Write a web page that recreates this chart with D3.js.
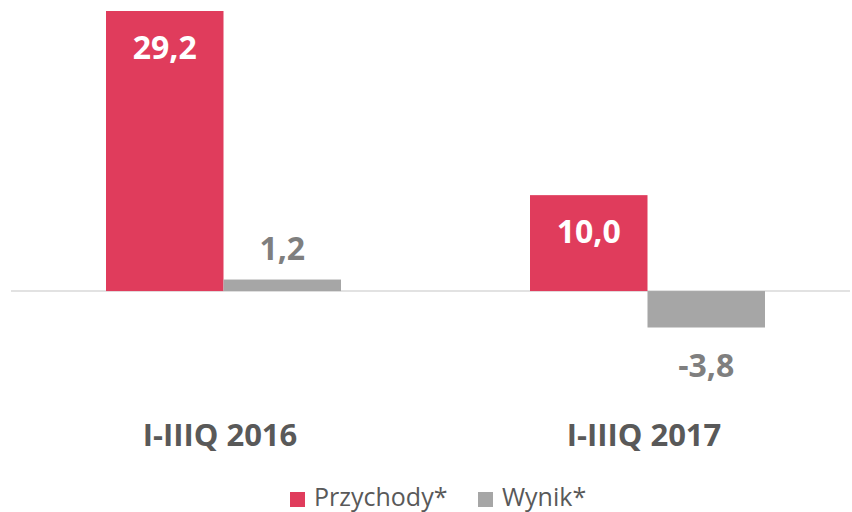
<!DOCTYPE html>
<html><head><meta charset="utf-8">
<script src="https://cdn.jsdelivr.net/npm/d3@7"></script>
<style>body{margin:0;background:#fff}svg{display:block}</style>
</head><body>
<script>
const categories = ["I-IIIQ 2016", "I-IIIQ 2017"];
const seriesNames = ["Przychody*", "Wynik*"];
const przychody = [29.2, 10.0];
const wynik = [1.2, -3.8];
const colors = ["#E03C5C", "#A6A6A6"];
const labelColors = ["#FFFFFF", "#7F7F7F"];

const W = 852, H = 512;
const font = "'Open Sans', sans-serif";
const svg = d3.select("body").append("svg").attr("width", W).attr("height", H);

const y = d3.scaleLinear().domain([-3.8, 29.2]).range([327.5, 11]);
const x0 = d3.scaleBand().domain(categories).range([11, 859]);
const x1 = d3.scaleBand().domain(seriesNames).range([95, 330]);

const data = categories.map((c, i) => ({cat: c, vals: [przychody[i], wynik[i]]}));
const fmt = v => v.toFixed(1).replace(".", ",");

// zero line
svg.append("line").attr("x1", 11).attr("x2", 850).attr("y1", y(0)).attr("y2", y(0))
  .attr("stroke", "#D9D9D9").attr("stroke-width", 1.5);

const g = svg.selectAll("g.grp").data(data).join("g")
  .attr("transform", d => `translate(${x0(d.cat)},0)`);

g.selectAll("rect").data(d => d.vals.map((v, j) => ({v, j}))).join("rect")
  .attr("x", d => x1(seriesNames[d.j]))
  .attr("width", x1.bandwidth())
  .attr("y", d => y(Math.max(0, d.v)))
  .attr("height", d => Math.abs(y(d.v) - y(0)))
  .attr("fill", d => colors[d.j]);

g.selectAll("text.val").data(d => d.vals.map((v, j) => ({v, j}))).join("text")
  .attr("class", "val")
  .attr("x", d => x1(seriesNames[d.j]) + x1.bandwidth() / 2)
  .attr("y", d => d.j === 0 ? y(d.v) + 48 : (d.v >= 0 ? y(d.v) - 20 : y(d.v) + 49))
  .attr("text-anchor", "middle")
  .attr("font-family", font).attr("font-weight", "bold").attr("font-size", 32)
  .attr("fill", d => labelColors[d.j])
  .text(d => fmt(d.v));

// category labels
svg.selectAll("text.cat").data(categories).join("text")
  .attr("class", "cat")
  .attr("x", d => x0(d) + 209)
  .attr("y", 446)
  .attr("text-anchor", "middle")
  .attr("font-family", font).attr("font-weight", "bold").attr("font-size", 31)
  .attr("fill", "#595959")
  .text(d => d);

// legend
const legX = [290, 478];
const lg = svg.selectAll("g.leg").data(seriesNames).join("g")
  .attr("transform", (d, i) => `translate(${legX[i]},492)`);
lg.append("rect").attr("width", 15).attr("height", 15).attr("fill", (d, i) => colors[i]);
lg.append("text").attr("x", 24).attr("y", 14)
  .attr("font-family", font).attr("font-size", 25).attr("fill", "#595959")
  .text(d => d);
</script>
</body></html>
